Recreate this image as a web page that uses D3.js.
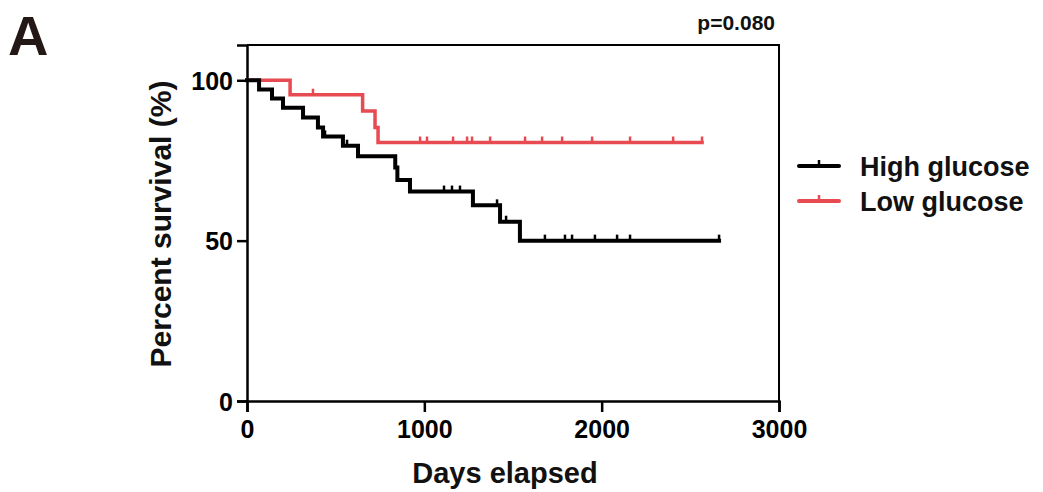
<!DOCTYPE html>
<html><head><meta charset="utf-8">
<script src="https://cdn.jsdelivr.net/npm/d3@7"></script>
<style>
body{margin:0;background:#fff;}
text{font-family:"Liberation Sans",Arial,Helvetica,sans-serif;font-weight:bold;}
</style></head>
<body><svg id="c" width="1043" height="492"></svg>
<script>
// ---- data ----
const seriesNames = ["High glucose", "Low glucose"];
const seriesColors = ["#000000", "#e84a51"];
// step curves: [day, percent after event]
const highSteps = [[0,100],[68,97.1],[141,94.3],[203,91.4],[316,88.4],[400,85.3],[429,82.5],[541,79.6],[626,76.3],[836,72.8],[848,68.9],[919,65.3],[1274,61.0],[1427,55.9],[1539,50.0]];
const highEnd = 2662;
const highCensor = [440,564,1111,1156,1201,1410,1461,1680,1793,1833,1962,2087,2160,2662];
const lowSteps = [[0,100],[243,95.5],[652,90.4],[722,85.3],[739,80.6]];
const lowEnd = 2566;
const lowCensor = [372,976,1015,1162,1241,1269,1371,1568,1664,1777,1946,2160,2403,2566];
const xTicks = [0,1000,2000,3000];
const yTicks = [0,50,100];
const pText = "p=0.080";

const svg = d3.select("#c");
const x = d3.scaleLinear().domain([0,3000]).range([247,779]);
const y = d3.scaleLinear().domain([0,111]).range([401,45]);

// frame (top & right)
svg.append("path").attr("d",`M${x(0)},${y(111)}H${x(3000)}V${y(0)}`).attr("fill","none").attr("stroke","#000").attr("stroke-width",2);

// axes
const xa = svg.append("g").attr("transform",`translate(0,${y(0)})`)
  .call(d3.axisBottom(x).tickValues(xTicks).tickFormat(d3.format("d")).tickSizeOuter(0).tickSize(11).tickPadding(6));
const ya = svg.append("g").attr("transform",`translate(${x(0)},0)`)
  .call(d3.axisLeft(y).tickValues(yTicks).tickSizeOuter(0).tickSize(10).tickPadding(4));
[xa,ya].forEach(g=>{
  g.select(".domain").attr("stroke","#000").attr("stroke-width",2.5);
  g.selectAll(".tick line").attr("stroke","#000").attr("stroke-width",2.5);
  g.selectAll(".tick text").attr("fill","#000").style("font-size","25px").style("font-family","Liberation Sans, Arial, sans-serif").style("font-weight","bold");
});
ya.selectAll(".tick text").attr("dy","0.36em");
xa.selectAll(".tick text").attr("dy","0.8em");

function stepPath(steps,end){
  const pts=[];
  steps.forEach((s,i)=>{
    if(i>0) pts.push([s[0],steps[i-1][1]]);
    pts.push(s);
  });
  pts.push([end,steps[steps.length-1][1]]);
  return d3.line().x(d=>x(d[0])).y(d=>y(d[1]))(pts);
}
function levelAt(steps,t){
  let v=steps[0][1];
  steps.forEach(s=>{ if(s[0]<=t) v=s[1]; });
  return v;
}
function drawSeries(steps,end,cens,color,w){
  svg.append("path").attr("d",stepPath(steps,end)).attr("fill","none").attr("stroke",color).attr("stroke-width",w).attr("stroke-linejoin","miter").attr("stroke-linecap","square");
  svg.append("g").selectAll("line").data(cens).join("line")
    .attr("x1",d=>x(d)).attr("x2",d=>x(d))
    .attr("y1",d=>y(levelAt(steps,d))).attr("y2",d=>y(levelAt(steps,d))-6)
    .attr("stroke",color).attr("stroke-width",2.5);
}
drawSeries(lowSteps,lowEnd,lowCensor,seriesColors[1],3.5);
drawSeries(highSteps,highEnd,highCensor,seriesColors[0],4);

// legend
const legY=[166,201];
seriesNames.forEach((n,i)=>{
  svg.append("line").attr("x1",799).attr("x2",839).attr("y1",legY[i]).attr("y2",legY[i]).attr("stroke",seriesColors[i]).attr("stroke-width",4).attr("stroke-linecap","round");
  svg.append("line").attr("x1",819).attr("x2",819).attr("y1",legY[i]).attr("y2",legY[i]-6).attr("stroke",seriesColors[i]).attr("stroke-width",2.5);
  svg.append("text").attr("x",860).attr("y",legY[i]).attr("dy","0.36em").style("font-size","27px").attr("fill","#111").text(n);
});

// titles
svg.append("text").attr("x",505).attr("y",483).attr("text-anchor","middle").style("font-size","29px").attr("fill","#111").text("Days elapsed");
svg.append("text").attr("transform","translate(171,224) rotate(-90)").attr("text-anchor","middle").style("font-size","30px").attr("fill","#111").text("Percent survival (%)");
svg.append("text").attr("x",775).attr("y",30).attr("text-anchor","end").style("font-size","21px").attr("fill","#111").text(pText);
svg.append("text").attr("x",8).attr("y",55).style("font-size","56px").attr("fill","#231815").text("A");
</script></body></html>
